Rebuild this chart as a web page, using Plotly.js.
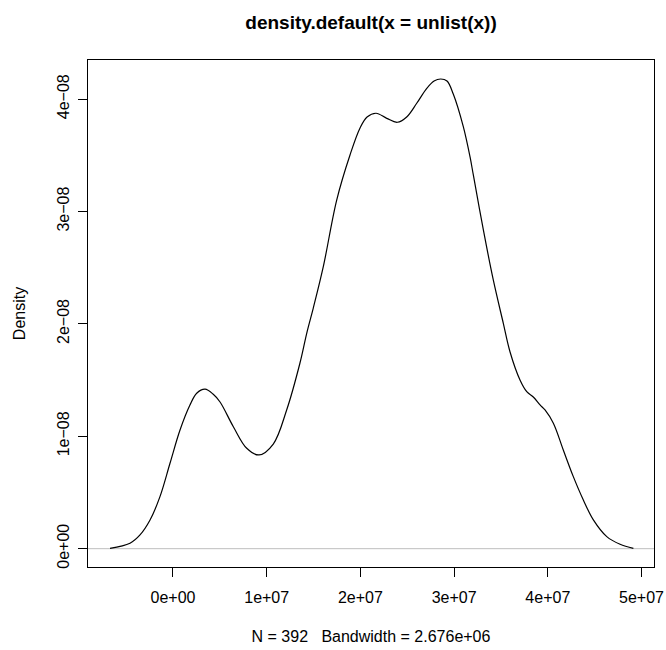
<!DOCTYPE html>
<html>
<head>
<meta charset="utf-8">
<script src="https://cdn.plot.ly/plotly-3.0.1.min.js"></script>
<style>html,body{margin:0;padding:0;background:#fff;}#chart{width:666px;height:650px;}</style>
</head>
<body>
<div id="chart"></div>
<script>
// Density estimate (x in raw units, y in density units)
const densityX = [
  -6.72e6, -4.59e6, -3.52e6, -2.45e6, -1.39e6, -0.32e6, 0.75e6, 1.81e6, 2.53e6, 3.42e6,
  4.27e6, 5.02e6, 6.44e6, 7.87e6, 9.18e6, 10.70e6, 12.13e6, 13.55e6, 14.27e6,
  14.97e6, 16.04e6, 17.47e6, 18.89e6, 19.96e6, 20.71e6, 21.67e6, 22.81e6, 23.94e6, 24.94e6,
  26.01e6, 27.08e6, 27.86e6, 28.57e6, 29.24e6, 29.91e6, 30.98e6, 31.70e6, 32.05e6, 33.12e6,
  34.18e6, 35.25e6, 35.97e6, 37.03e6, 37.75e6, 38.45e6, 39.17e6, 39.70e6, 40.59e6, 41.65e6,
  42.72e6, 43.79e6, 44.86e6, 46.29e6, 47.71e6, 49.13e6
];
const densityY = [
  0.003e-8, 0.048e-8, 0.122e-8, 0.255e-8, 0.463e-8, 0.760e-8, 1.056e-8, 1.278e-8, 1.383e-8, 1.419e-8,
  1.376e-8, 1.305e-8, 1.085e-8, 0.893e-8, 0.834e-8, 0.931e-8, 1.234e-8, 1.652e-8, 1.916e-8,
  2.141e-8, 2.509e-8, 3.102e-8, 3.503e-8, 3.743e-8, 3.841e-8, 3.874e-8, 3.829e-8, 3.794e-8, 3.841e-8,
  3.963e-8, 4.096e-8, 4.161e-8, 4.179e-8, 4.161e-8, 4.045e-8, 3.755e-8, 3.485e-8, 3.325e-8, 2.836e-8,
  2.391e-8, 2.005e-8, 1.750e-8, 1.501e-8, 1.397e-8, 1.350e-8, 1.279e-8, 1.234e-8, 1.116e-8, 0.878e-8,
  0.641e-8, 0.433e-8, 0.256e-8, 0.107e-8, 0.039e-8, 0.003e-8
];
const xTickVals = [0, 1e7, 2e7, 3e7, 4e7, 5e7];
const xTickText = ["0e+00", "1e+07", "2e+07", "3e+07", "4e+07", "5e+07"];
const yTickVals = [0, 1e-8, 2e-8, 3e-8, 4e-8];
const yTickText = ["0e+00", "1e\u221208", "2e\u221208", "3e\u221208", "4e\u221208"];
const mainTitle = "density.default(x = unlist(x))";
const subTitle = "N = 392\u00a0\u00a0\u00a0Bandwidth = 2.676e+06";
const yTitle = "Density";

const FONT = "Liberation Sans, Arial, Helvetica, sans-serif";

const trace = {
  x: densityX, y: densityY, type: "scatter", mode: "lines",
  line: {color: "#000", width: 1.2, shape: "spline", smoothing: 1.0},
  hoverinfo: "skip", showlegend: false
};

const layout = {
  width: 666, height: 650,
  margin: {l: 88, r: 12, t: 60, b: 83},
  paper_bgcolor: "#fff", plot_bgcolor: "#fff",
  font: {family: FONT, color: "#000", size: 16},
  title: {
    text: "<b>" + mainTitle + "</b>",
    font: {family: FONT, size: 19, color: "#000"},
    x: 0.5, xref: "paper", xanchor: "center",
    y: 1 - 22/650, yref: "container", yanchor: "middle"
  },
  xaxis: {
    range: [-9.07e6, 5.133e7], autorange: false,
    tickmode: "array", tickvals: xTickVals, ticktext: xTickText,
    ticks: "outside", ticklen: 9, tickwidth: 1, tickcolor: "#000",
    ticklabelstandoff: 7,
    showline: true, mirror: true, linecolor: "#000", linewidth: 1,
    showgrid: false, zeroline: false,
    tickfont: {family: FONT, size: 16, color: "#000"},
    title: {text: subTitle, font: {family: FONT, size: 16, color: "#000"}, standoff: 25},
    automargin: false
  },
  yaxis: {
    range: [-0.163e-8, 4.348e-8], autorange: false,
    tickmode: "array", tickvals: yTickVals, ticktext: yTickText,
    tickangle: -90,
    ticks: "outside", ticklen: 9, tickwidth: 1, tickcolor: "#000",
    ticklabelstandoff: 3,
    showline: true, mirror: true, linecolor: "#000", linewidth: 1,
    showgrid: false, zeroline: false,
    tickfont: {family: FONT, size: 16, color: "#000"},
    title: {text: yTitle, font: {family: FONT, size: 16, color: "#000"}, standoff: 24},
    automargin: false
  },
  shapes: [{
    type: "line", xref: "paper", yref: "y", x0: 0, x1: 1, y0: 0, y1: 0,
    line: {color: "#bebebe", width: 1}, layer: "below"
  }]
};

Plotly.newPlot("chart", [trace], layout, {displayModeBar: false, staticPlot: true});
</script>
</body>
</html>
